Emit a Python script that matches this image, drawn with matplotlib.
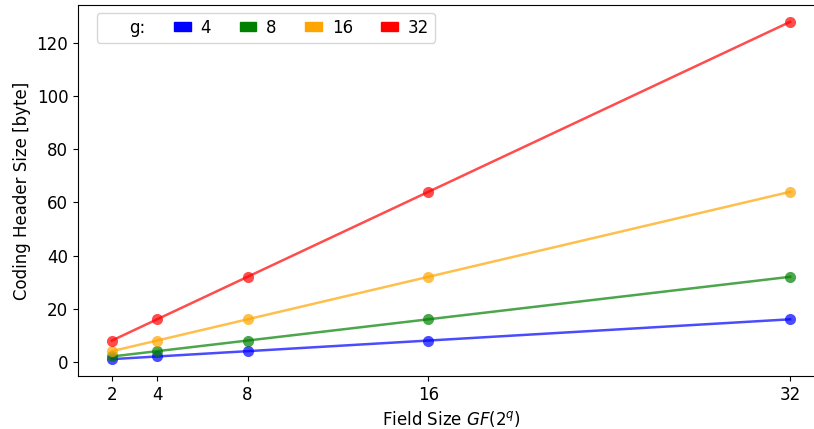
import matplotlib
matplotlib.use("Agg")
import matplotlib.pyplot as plt
from matplotlib.patches import Patch

field_sizes = [2, 4, 8, 16, 32]
g_labels = ["4", "8", "16", "32"]
g4 = [1, 2, 4, 8, 16]
g8 = [2, 4, 8, 16, 32]
g16 = [4, 8, 16, 32, 64]
g32 = [8, 16, 32, 64, 128]
series = [g4, g8, g16, g32]
colors = ["blue", "green", "orange", "red"]

plt.rcParams["font.size"] = 12

fig = plt.figure(figsize=(8.14, 4.29), dpi=100)
ax = fig.add_axes([78/814, (429-376)/429, 746/814, 371/429])

for vals, c in zip(series, colors):
    ax.plot(field_sizes, vals, color=c, alpha=0.7, linewidth=1.8,
            marker="o", markersize=8, markeredgewidth=0)

ax.set_xticks(field_sizes)
ax.set_xticklabels([str(v) for v in field_sizes])
ax.set_xlabel("Field Size $GF(2^q)$")
ax.set_ylabel("Coding Header Size [byte]")

handles = [Patch(color="none", label="g:")] + [Patch(color=c, label=l) for c, l in zip(colors, g_labels)]
ax.legend(handles=handles, ncol=5, loc="upper left", bbox_to_anchor=(19/746, 363/371),
          borderaxespad=0, handlelength=1.0, handleheight=0.45, handletextpad=0.6,
          columnspacing=1.7, borderpad=0.35, fontsize=12)

fig.savefig("out.png", dpi=100)
